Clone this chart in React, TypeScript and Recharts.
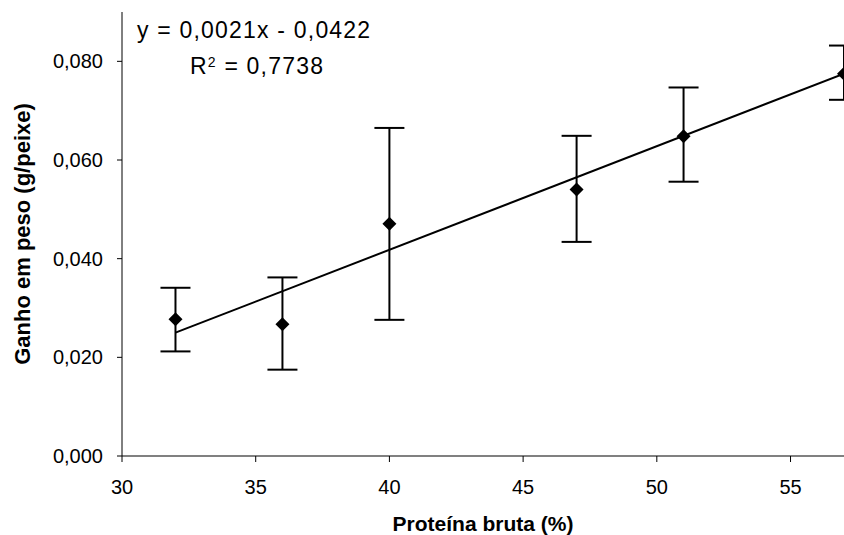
import React from 'react';
import {
    ComposedChart,
    Scatter,
    Line,
    XAxis,
    YAxis,
    ErrorBar,
    Label,
} from 'recharts';

// Proteína bruta (%) of each diet
const protein = [32, 36, 40, 47, 51, 57];
// mean weight gain (g/peixe)
const gain = [0.0277, 0.0267, 0.0471, 0.054, 0.0648, 0.0775];
// error bar ends
const gainLow = [0.0212, 0.0175, 0.0276, 0.0434, 0.0556, 0.0722];
const gainHigh = [0.0341, 0.0362, 0.0665, 0.0649, 0.0747, 0.0832];

// linear trend line ends (y = 0,0021x - 0,0422)
const trendX = [32, 57];
const trendY = [0.025, 0.0775];

const xTicks = [30, 35, 40, 45, 50, 55];
const yTicks = [0, 0.02, 0.04, 0.06, 0.08];

const points = protein.map((x, i) => ({
    x,
    y: gain[i],
    err: [gain[i] - gainLow[i], gainHigh[i] - gain[i]],
}));
const trend = trendX.map((x, i) => ({ x, y: trendY[i] }));

const font = '"Liberation Sans", Arial, sans-serif';

const Diamond = (props: any) => {
    const { cx, cy } = props;
    if (cx == null || cy == null) return null;
    const r = 7;
    return (
        <polygon
            points={`${cx},${cy - r} ${cx + r},${cy} ${cx},${cy + r} ${cx - r},${cy}`}
            fill="#000"
        />
    );
};

export default function App() {
    return (
        <div style={{ position: 'absolute', left: 0, top: 0, width: 844, height: 535, background: '#fff', fontFamily: font }}>
            <ComposedChart width={844} height={535} margin={{ top: 12, right: 0, bottom: 0, left: 0 }}>
                <XAxis
                    type="number"
                    dataKey="x"
                    domain={[30, 57]}
                    ticks={xTicks}
                    allowDataOverflow
                    height={79}
                    stroke="#808080"
                    strokeWidth={2}
                    tickSize={6}
                    tickMargin={18}
                    tickLine={{ stroke: '#000', strokeWidth: 1 }}
                    tick={{ fill: '#000', fontSize: 20, fontFamily: font }}
                >
                    <Label
                        value="Proteína bruta (%)"
                        position="insideBottom"
                        offset={4}
                        fill="#000"
                        fontSize={21}
                        fontWeight="bold"
                        fontFamily={font}
                    />
                </XAxis>
                <YAxis
                    type="number"
                    dataKey="y"
                    domain={[0, 0.09]}
                    ticks={yTicks}
                    allowDataOverflow
                    width={122}
                    stroke="#000"
                    tickSize={5}
                    tickMargin={14}
                    tickFormatter={(v: number) => v.toFixed(3).replace('.', ',')}
                    tick={{ fill: '#000', fontSize: 20, fontFamily: font }}
                >
                    <Label
                        content={({ viewBox }: any) => {
                            const cy = viewBox.y + viewBox.height / 2;
                            return (
                                <text
                                    x={22}
                                    y={cy}
                                    transform={`rotate(-90, 22, ${cy})`}
                                    textAnchor="middle"
                                    dominantBaseline="central"
                                    fontSize={22}
                                    fontWeight="bold"
                                    fontFamily={font}
                                    fill="#000"
                                >
                                    Ganho em peso (g/peixe)
                                </text>
                            );
                        }}
                    />
                </YAxis>
                <Line
                    data={trend}
                    dataKey="y"
                    stroke="#000"
                    strokeWidth={2}
                    dot={false}
                    activeDot={false}
                    isAnimationActive={false}
                />
                <Scatter data={points} dataKey="y" shape={<Diamond />} isAnimationActive={false}>
                    <ErrorBar dataKey="err" direction="y" width={15} stroke="#000" strokeWidth={2} isAnimationActive={false} />
                </Scatter>
            </ComposedChart>
            <div style={{ position: 'absolute', left: 137, top: 16, fontSize: 23, letterSpacing: 1.2, lineHeight: '28px', color: '#000', whiteSpace: 'nowrap' }}>
                y = 0,0021x - 0,0422
            </div>
            <div style={{ position: 'absolute', left: 190, top: 52, fontSize: 23, letterSpacing: 1.2, lineHeight: '28px', color: '#000', whiteSpace: 'nowrap' }}>
                R<sup style={{ fontSize: 14, verticalAlign: 'top', position: 'relative', top: -4 }}>2</sup> = 0,7738
            </div>
        </div>
    );
}
